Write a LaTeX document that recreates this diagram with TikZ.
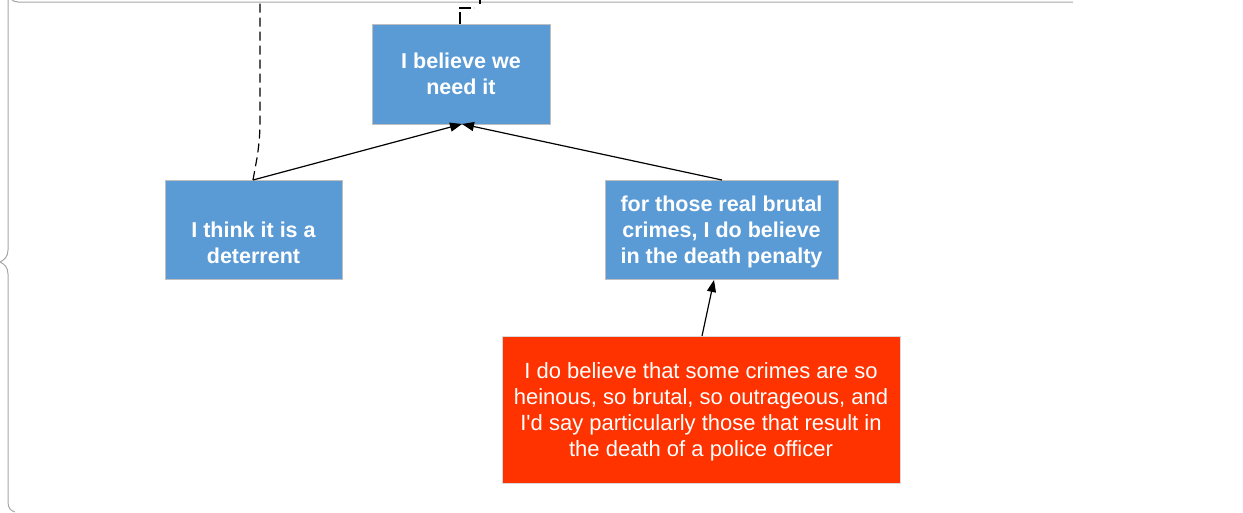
\documentclass[tikz,border=0pt]{standalone}
\usepackage{fontspec}
\setmainfont{Liberation Sans}
\usetikzlibrary{arrows.meta,calc}
\definecolor{boxblue}{HTML}{5B9BD5}
\definecolor{boxred}{HTML}{FF3300}
\definecolor{framegray}{HTML}{A6A6A6}
\begin{document}
\begin{tikzpicture}[x=1pt,y=-1pt,
  bluebox/.style={draw=black!25, fill=boxblue, text=white, font=\fontsize{21.5}{26}\selectfont\bfseries, align=center, inner sep=0pt},
  bluetext/.style={text=white, font=\fontsize{21.5}{26}\selectfont\bfseries, align=center, inner sep=0pt},
  redbox/.style={draw=black!15, fill=boxred, text=white, font=\fontsize{22}{26}\selectfont, align=center, inner sep=0pt},
  conn/.style={-{Triangle[length=12pt,width=9pt]}, line width=1.2pt},
  dashconn/.style={dashed, dash pattern=on 9pt off 5pt, line width=1.2pt}]
\useasboundingbox (0,0) rectangle (1243,512);
% frame with brace
\draw[framegray, line width=1pt] (1073,2) -- (18,2) arc[start angle=90, end angle=180, radius=10]
  -- (8,250) .. controls (8,257) and (4,260) .. (0,262)
  .. controls (4,264) and (8,267) .. (8,274) -- (8,502) .. controls (8,508) and (11,511) .. (15,512);
% nodes
\node[bluebox, minimum width=178pt, minimum height=100pt] (need) at (461,74) {I believe we\\need it};
\node[bluebox, minimum width=177pt, minimum height=99pt] (deter) at (253.5,229.5) {};
\node[bluetext] (deterlabel) at ($(deter.center)+(0,13)$) {I think it is a\\deterrent};
\node[bluebox, minimum width=233pt, minimum height=99pt] (brutal) at (721.5,229.5) {};
\node[bluetext] (brutallabel) at ($(brutal.center)+(0,2)$) {for those real brutal\\crimes, I do believe\\in the death penalty};
\node[redbox, minimum width=398pt, minimum height=147pt] (heinous) at (701,409.5) {};
\node[text=white, font=\fontsize{22}{26}\selectfont, align=center, inner sep=0pt] (heinouslabel) at ($(heinous.center)+(0,2)$) {I do believe that some crimes are so\\heinous, so brutal, so outrageous, and\\I\textquotesingle d say particularly those that result in\\the death of a police officer};
% coordinates
\coordinate (dtop) at (253,180);
\coordinate (btop) at (722,180);
\coordinate (ntip) at (462,124);
\coordinate (htop) at (702,336);
\coordinate (btip) at (714,280);
\coordinate (dashA) at (260,0);
\coordinate (ntop) at (460,24);
\coordinate (nout) at (480,0);
% connectors
\draw[conn] (dtop) -- (ntip);
\draw[conn] (btop) -- (ntip);
\draw[conn] (htop) -- (btip);
\draw[dashconn] (dtop) -- (257,158) .. controls (259,145) and (260,135) .. (260,120) -- (dashA);
\draw[dashconn, dash pattern=on 12pt off 3pt] (ntop) -- (460,8) -- (474,8);
\draw[line width=1.2pt] (nout) -- (480,4);
\end{tikzpicture}
\end{document}
